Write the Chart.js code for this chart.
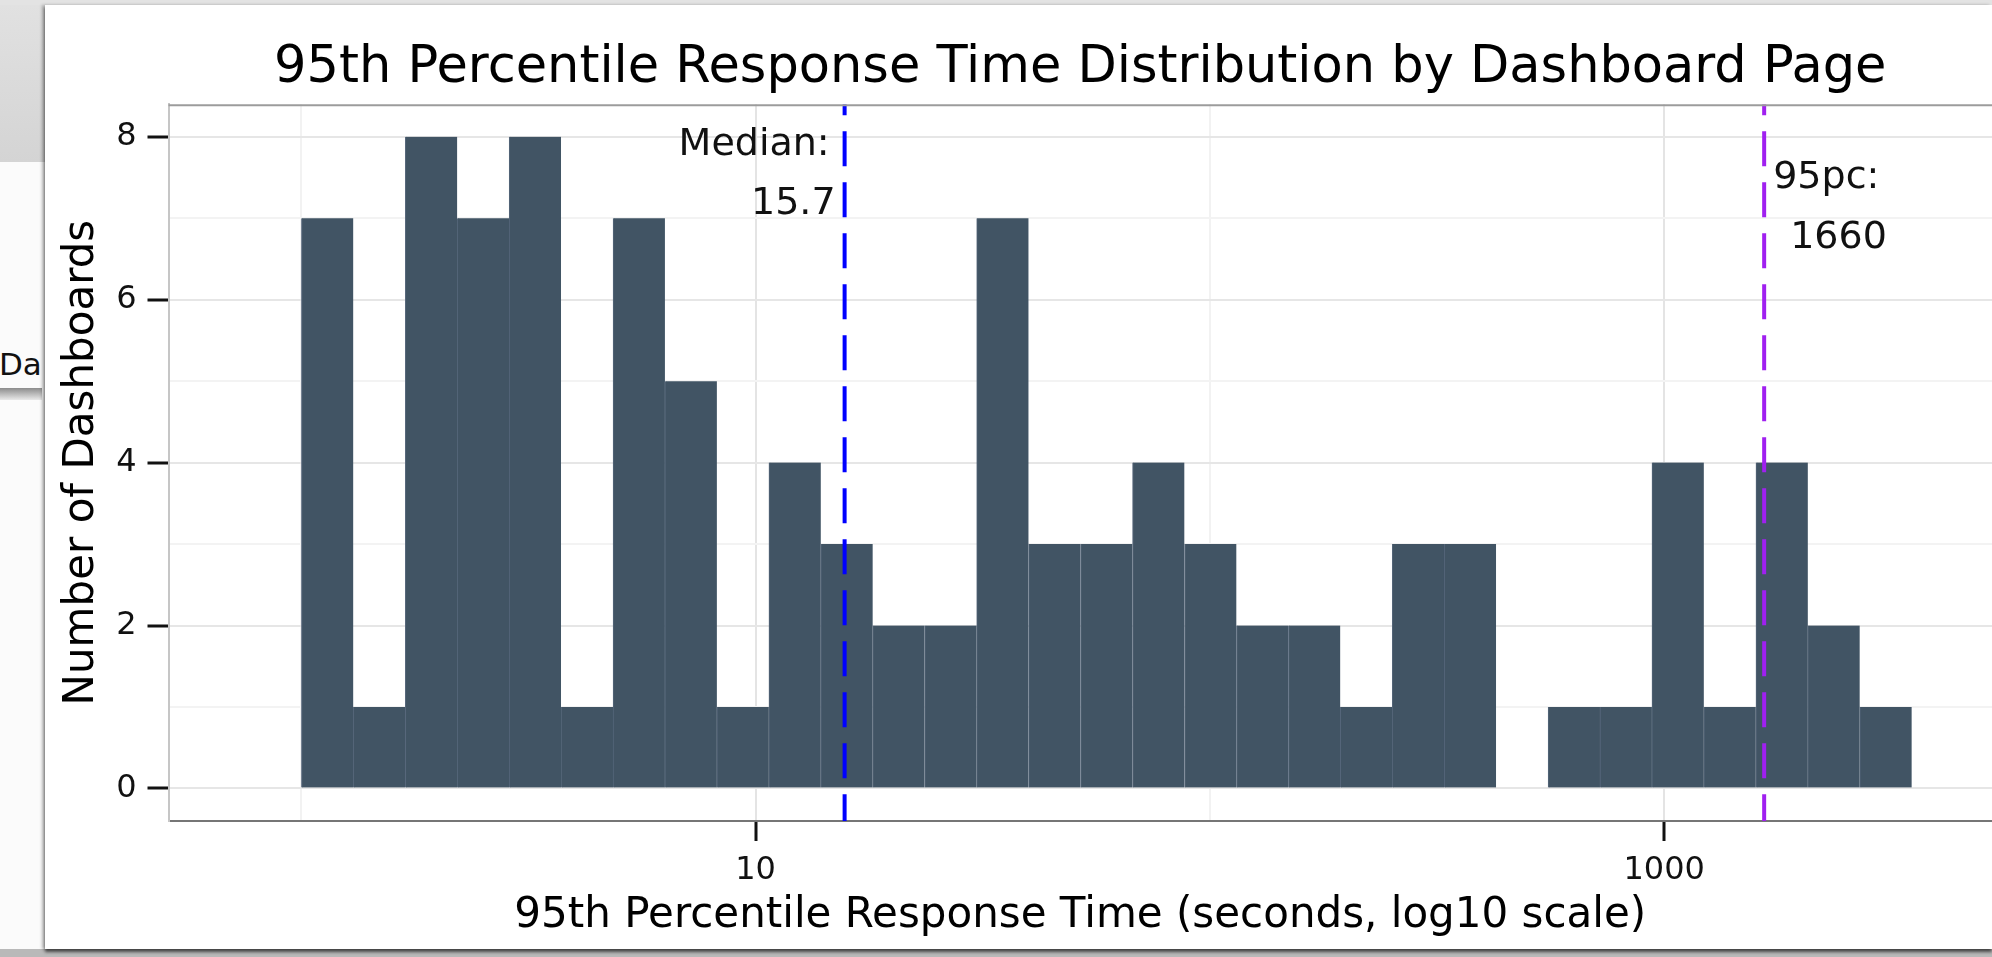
<!DOCTYPE html>
<html>
<head>
<meta charset="utf-8">
<title>95th Percentile Response Time Distribution by Dashboard Page</title>
<script src="https://cdn.jsdelivr.net/npm/chart.js@4.4.1/dist/chart.umd.min.js"></script>
<style>
  html, body { margin: 0; padding: 0; }
  body {
    width: 1992px; height: 957px; overflow: hidden; position: relative;
    background: #b9b9b9; font-family: "DejaVu Sans", sans-serif;
  }
  #topBar { position: absolute; left: 0; top: 0; width: 1992px; height: 5px; background: #e3e3e3; }
  #sideTab { position: absolute; left: 0; top: 5px; width: 45px; height: 157px; background: linear-gradient(#e1e1e1, #d4d4d4); }
  #sidePage { position: absolute; left: 0; top: 162px; width: 45px; height: 787px; background: #fbfbfb; }
  #sideLabel { position: absolute; left: -1px; top: 346px; font-size: 31px; color: #111; white-space: nowrap; }
  #sideRule { position: absolute; left: 0; top: 388px; width: 42px; height: 12px; background: linear-gradient(#8c8c8c, #e9e9e9); }
  #panel {
    position: absolute; left: 45px; top: 5px; width: 1947px; height: 944px; background: #fff;
    box-shadow: -3px 0 3px rgba(0, 0, 0, 0.25), 0 3px 3px rgba(0, 0, 0, 0.6);
  }
  #chartBox { position: absolute; left: 0; top: 0; width: 1947px; height: 944px; }
</style>
</head>
<body>
<div id="topBar"></div>
<div id="sideTab"></div>
<div id="sidePage"></div>
<div id="sideLabel">Da</div>
<div id="sideRule"></div>
<div id="panel">
  <div id="chartBox"><canvas id="histChart"></canvas></div>
</div>
<script>
// histogram bins, centre of each bin in seconds (equal steps on the log10 axis)
const binCentres = [1.141, 1.484, 1.932, 2.513, 3.270, 4.256, 5.537, 7.205, 9.376, 12.20,
  15.87, 20.65, 26.88, 34.97, 45.51, 59.22, 77.06, 100.3, 130.5, 169.8,
  220.9, 287.4, 374.0, 486.7, 633.3, 824.0, 1072, 1395, 1816, 2362, 3074];
// number of dashboards in each bin
const dashboardCounts = [7, 1, 8, 7, 8, 1, 7, 5, 1, 4,
  3, 2, 2, 7, 3, 3, 4, 3, 2, 2,
  1, 3, 3, 0, 1, 1, 4, 1, 4, 2, 1];
const medianValue = 15.7;
const p95Value = 1660;

const xTicks = [1, 10, 100, 1000];
const xTickLabels = ['', '10', '', '1000'];
const yTicks = [0, 1, 2, 3, 4, 5, 6, 7, 8];
const yTickLabels = ['0', '', '2', '', '4', '', '6', '', '8'];
const xRange = [0.51, 5268];
const yRange = [-0.4, 8.4];

Chart.defaults.font.family = '"DejaVu Sans", sans-serif';
Chart.defaults.color = '#111';

// top edge of the panel
const panelTop = {
  id: 'panelTop',
  afterDatasetsDraw(chart) {
    const { ctx, chartArea } = chart;
    ctx.save();
    ctx.strokeStyle = '#9c9c9c';
    ctx.lineWidth = 2;
    ctx.beginPath();
    ctx.moveTo(chartArea.left, chartArea.top + 1);
    ctx.lineTo(chartArea.right, chartArea.top + 1);
    ctx.stroke();
    ctx.restore();
  }
};

// text next to the two reference lines
const refNotes = {
  id: 'refNotes',
  afterDatasetsDraw(chart, args, opts) {
    const { ctx, scales } = chart;
    ctx.save();
    ctx.font = opts.size + 'px "DejaVu Sans", sans-serif';
    ctx.fillStyle = opts.color;
    ctx.textBaseline = 'alphabetic';
    opts.items.forEach(n => {
      ctx.textAlign = n.align;
      ctx.fillText(n.text, scales.x.getPixelForValue(n.at) + n.dx, scales.y.getPixelForValue(n.y));
    });
    ctx.restore();
  }
};

const ctx = document.getElementById('histChart').getContext('2d');
const histChart = new Chart(ctx, {
  type: 'bar',
  data: {
    datasets: [
      {
        type: 'line',
        label: 'Median',
        data: [{ x: medianValue, y: yRange[1] }, { x: medianValue, y: yRange[0] }],
        borderColor: '#0000ff',
        borderWidth: 4,
        borderDash: [35, 16],
        borderDashOffset: 24,
        pointRadius: 0,
        order: 0
      },
      {
        type: 'line',
        label: '95pc',
        data: [{ x: p95Value, y: yRange[1] }, { x: p95Value, y: yRange[0] }],
        borderColor: '#a020f0',
        borderWidth: 4,
        borderDash: [35, 16],
        borderDashOffset: 24,
        pointRadius: 0,
        order: 0
      },
      {
        label: 'Number of Dashboards',
        data: binCentres.map((c, i) => ({ x: c, y: dashboardCounts[i] })),
        backgroundColor: '#415464',
        borderColor: '#55667a',
        borderWidth: { top: 0, right: 0, bottom: 0, left: 1 },
        borderSkipped: false,
        barPercentage: 1,
        categoryPercentage: 1,
        order: 1
      }
    ]
  },
  options: {
    responsive: true,
    maintainAspectRatio: false,
    animation: false,
    events: [],
    layout: { padding: 0 },
    plugins: {
      legend: { display: false },
      tooltip: { enabled: false },
      title: {
        display: true,
        text: '95th Percentile Response Time Distribution by Dashboard Page',
        fullSize: false,
        color: '#000',
        font: { size: 51, weight: 'normal', lineHeight: 1.2 },
        padding: { top: 33, bottom: 5 }
      },
      refNotes: {
        size: 38,
        color: '#111',
        items: [
          { text: 'Median:', at: medianValue, dx: -15, y: 7.78, align: 'right' },
          { text: String(medianValue), at: medianValue, dx: -9, y: 7.05, align: 'right' },
          { text: '95pc:', at: p95Value, dx: 9, y: 7.37, align: 'left' },
          { text: String(p95Value), at: p95Value, dx: 26, y: 6.64, align: 'left' }
        ]
      }
    },
    scales: {
      x: {
        type: 'logarithmic',
        min: xRange[0],
        max: xRange[1],
        offset: false,
        afterBuildTicks: s => { s.ticks = xTicks.map(v => ({ value: v })); },
        afterFit: s => { s.height = 128; },
        ticks: {
          autoSkip: false,
          maxRotation: 0,
          padding: 10,
          color: '#111',
          font: { size: 32, lineHeight: 1.2 },
          callback: v => xTickLabels[xTicks.indexOf(v)] || ''
        },
        grid: {
          offset: false,
          lineWidth: 2,
          color: c => (c.tick && xTickLabels[xTicks.indexOf(c.tick.value)]) ? '#e4e4e4' : '#f2f2f2',
          tickLength: 20,
          tickWidth: 3,
          tickColor: c => (c.tick && xTickLabels[xTicks.indexOf(c.tick.value)]) ? '#111' : 'rgba(0,0,0,0)'
        },
        border: { display: true, color: '#767676', width: 2 },
        title: {
          display: true,
          text: '95th Percentile Response Time (seconds, log10 scale)',
          color: '#000',
          font: { size: 42, lineHeight: 1.2 },
          padding: { top: 0, bottom: 8 }
        }
      },
      y: {
        min: yRange[0],
        max: yRange[1],
        afterBuildTicks: s => { s.ticks = yTicks.map(v => ({ value: v })); },
        afterFit: s => { s.width = 123.5; },
        ticks: {
          autoSkip: false,
          crossAlign: 'near',
          padding: 11,
          color: '#111',
          font: { size: 32, lineHeight: 1.2 },
          callback: v => yTickLabels[yTicks.indexOf(v)] || ''
        },
        grid: {
          lineWidth: 2,
          color: c => (c.tick && yTickLabels[yTicks.indexOf(c.tick.value)]) ? '#e6e6e6' : '#f3f3f3',
          tickLength: 21,
          tickWidth: 3,
          tickColor: c => (c.tick && yTickLabels[yTicks.indexOf(c.tick.value)]) ? '#111' : 'rgba(0,0,0,0)'
        },
        border: { display: true, color: '#c6c6c6', width: 2 },
        title: {
          display: true,
          text: 'Number of Dashboards',
          color: '#000',
          font: { size: 42, lineHeight: 1.2 },
          padding: { top: 12, bottom: 0 }
        }
      }
    }
  },
  plugins: [panelTop, refNotes]
});
</script>
</body>
</html>
